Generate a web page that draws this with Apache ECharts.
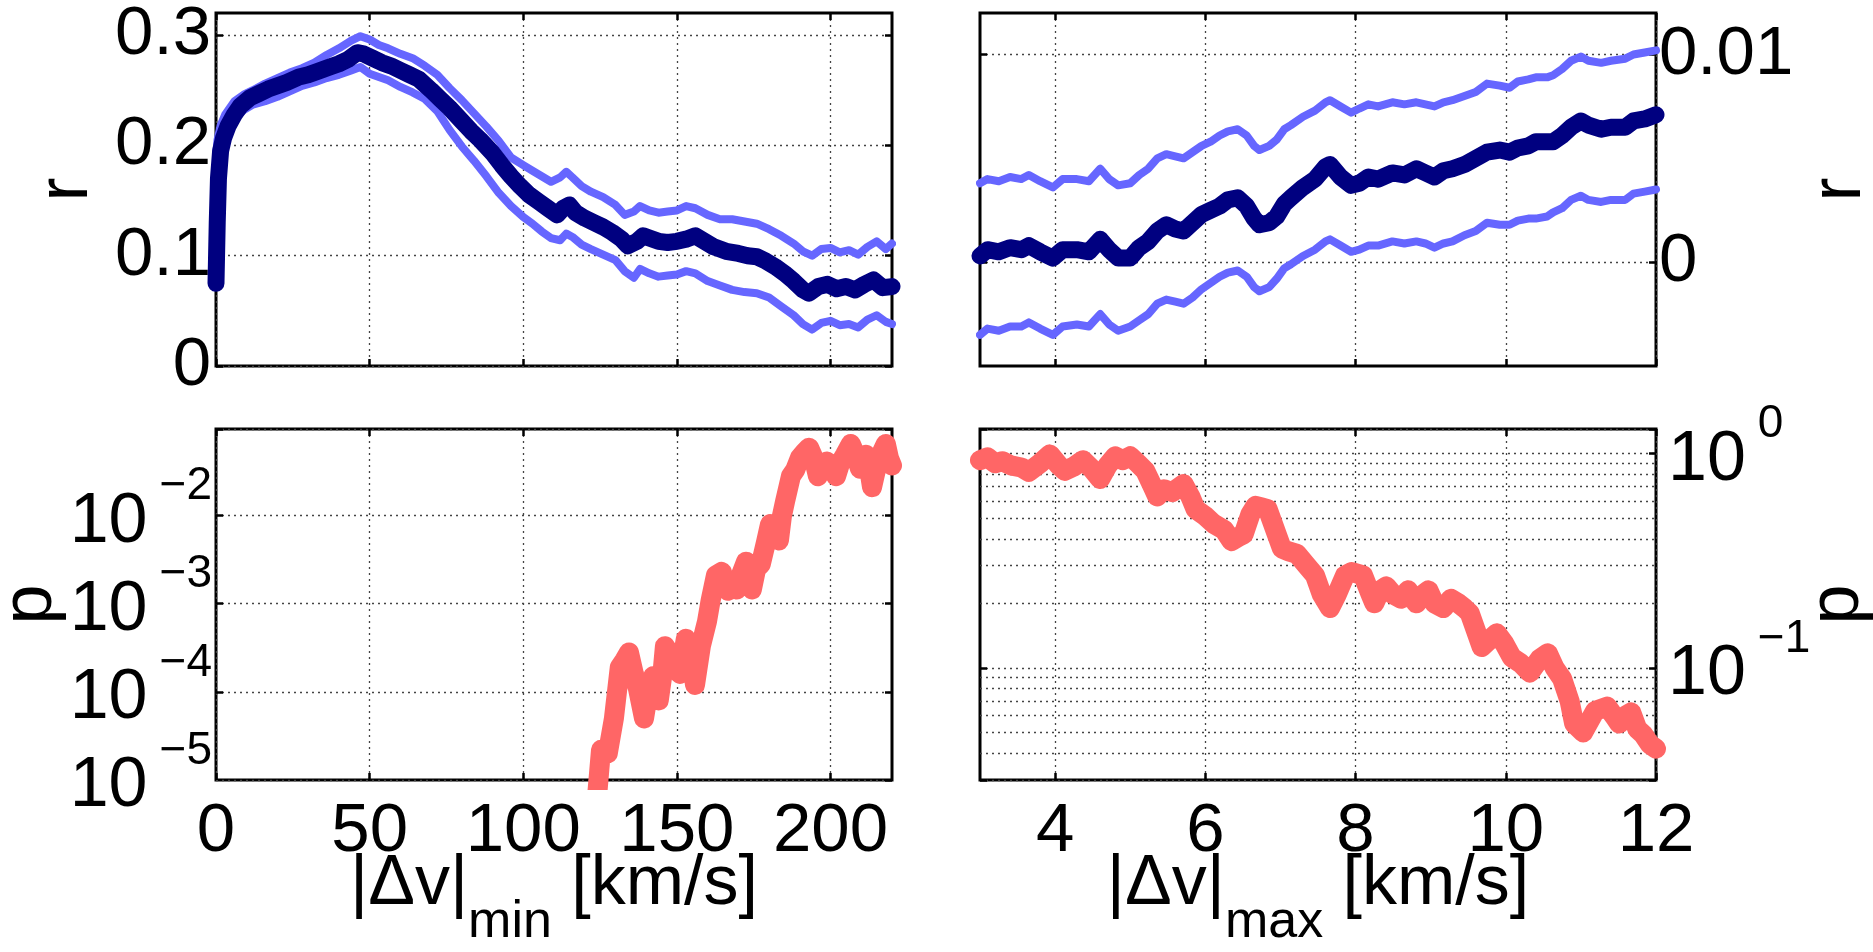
<!DOCTYPE html>
<html><head><meta charset="utf-8">
<script src="https://cdn.jsdelivr.net/npm/echarts@6/dist/echarts.min.js"></script>
<style>html,body{margin:0;padding:0;background:#fff}#c{width:1873px;height:952px}</style>
</head><body><div id="c"></div>
<script>
// ---------------- DATA ----------------
// top-left: r vs |dv|_min
const minNavyX = [0,0.4,0.8,1.5,2.5,4,6,8,11,14,17,20,23,27,30,33,37,40,43,46,48,51,54,57,60,63,66,70,73,76,80,83,86,90,93,96,99,102,105,108,111,113,115,117,120,123,126,129,132,134,137,139,141,144,147,150,153,156,159,162,166,170,173,176,179,182,185,188,191,193,196,199,202,205,208,211,214,217,220];
const minNavyR = [0.075,0.13,0.17,0.195,0.207,0.218,0.228,0.236,0.243,0.247,0.251,0.254,0.257,0.262,0.264,0.267,0.271,0.274,0.278,0.284,0.283,0.279,0.275,0.272,0.268,0.264,0.26,0.25,0.242,0.234,0.222,0.213,0.205,0.193,0.182,0.172,0.163,0.155,0.149,0.143,0.137,0.143,0.146,0.139,0.134,0.13,0.126,0.121,0.115,0.109,0.113,0.118,0.116,0.113,0.112,0.113,0.115,0.118,0.113,0.108,0.104,0.102,0.1,0.099,0.095,0.09,0.084,0.077,0.069,0.066,0.072,0.074,0.07,0.072,0.069,0.074,0.078,0.071,0.072];
const minBandX = [0,0.5,1.5,3,6,9,12,16,20,24,28,32,36,40,44,47,50,53,56,60,64,68,72,76,80,84,88,92,96,100,103,106,109,112,114,116,119,122,126,130,133,136,138,141,144,147,150,153,156,160,164,168,172,176,180,184,188,191,194,197,200,203,206,209,212,215,218,220];
const minUpperR = [0.19,0.205,0.218,0.228,0.24,0.246,0.25,0.256,0.261,0.266,0.27,0.275,0.282,0.288,0.295,0.299,0.296,0.291,0.288,0.283,0.279,0.272,0.264,0.252,0.241,0.229,0.217,0.204,0.189,0.182,0.177,0.172,0.167,0.171,0.176,0.171,0.163,0.158,0.153,0.146,0.137,0.14,0.145,0.141,0.139,0.14,0.141,0.145,0.143,0.137,0.133,0.133,0.131,0.129,0.124,0.118,0.111,0.104,0.1,0.106,0.107,0.103,0.105,0.101,0.108,0.113,0.106,0.111];
const minLowerR = [0.17,0.185,0.2,0.212,0.225,0.232,0.237,0.24,0.244,0.249,0.254,0.257,0.261,0.264,0.268,0.271,0.265,0.262,0.259,0.253,0.248,0.242,0.231,0.214,0.199,0.186,0.172,0.157,0.145,0.135,0.129,0.122,0.116,0.114,0.12,0.117,0.11,0.106,0.101,0.096,0.086,0.08,0.088,0.084,0.081,0.082,0.083,0.086,0.084,0.077,0.073,0.069,0.067,0.066,0.062,0.054,0.046,0.038,0.033,0.039,0.041,0.037,0.038,0.035,0.042,0.046,0.04,0.038];

// top-right: r vs |dv|_max
const maxX = [3.0,3.1,3.25,3.4,3.55,3.65,3.8,3.97,4.1,4.29,4.45,4.6,4.72,4.84,5.0,5.12,5.24,5.36,5.48,5.6,5.71,5.83,5.95,6.07,6.19,6.3,6.43,6.55,6.65,6.72,6.85,6.95,7.05,7.14,7.3,7.46,7.6,7.66,7.8,7.94,8.05,8.17,8.3,8.49,8.65,8.81,8.93,9.05,9.17,9.29,9.45,9.6,9.75,9.92,10.05,10.16,10.3,10.4,10.55,10.63,10.75,10.87,11.0,11.1,11.27,11.4,11.59,11.7,11.85,12.0];
const maxNavyR = [0.0003,0.0006,0.0005,0.0007,0.0006,0.0008,0.0005,0.0002,0.0006,0.0006,0.0005,0.0011,0.0006,0.0002,0.0002,0.0007,0.001,0.0015,0.0018,0.0016,0.0015,0.0019,0.0023,0.0025,0.0027,0.003,0.0031,0.0027,0.0021,0.0018,0.0019,0.0022,0.0028,0.0031,0.0036,0.004,0.0046,0.0047,0.0041,0.0037,0.0038,0.0041,0.004,0.0043,0.0042,0.0045,0.0043,0.0041,0.0044,0.0045,0.0047,0.005,0.0053,0.0054,0.0053,0.0055,0.0056,0.0058,0.0058,0.0058,0.0061,0.0065,0.0068,0.0066,0.0064,0.0065,0.0065,0.0068,0.0069,0.0071];
const maxUpperR = [0.0038,0.004,0.0039,0.0041,0.004,0.0042,0.0039,0.0036,0.004,0.004,0.0039,0.0045,0.004,0.0037,0.0038,0.0042,0.0045,0.005,0.0052,0.0051,0.005,0.0053,0.0056,0.0058,0.0061,0.0063,0.0064,0.0061,0.0056,0.0054,0.0056,0.0059,0.0064,0.0066,0.007,0.0073,0.0077,0.0078,0.0075,0.0072,0.0074,0.0076,0.0075,0.0077,0.0076,0.0077,0.0076,0.0075,0.0077,0.0078,0.008,0.0082,0.0086,0.0085,0.0084,0.0087,0.0088,0.0089,0.0089,0.009,0.0093,0.0097,0.0099,0.0097,0.0096,0.0097,0.0098,0.01,0.0101,0.0102];
const maxLowerR = [-0.0035,-0.0032,-0.0033,-0.0031,-0.0031,-0.0029,-0.0032,-0.0035,-0.0031,-0.003,-0.0031,-0.0025,-0.003,-0.0033,-0.0031,-0.0028,-0.0025,-0.002,-0.0018,-0.0019,-0.002,-0.0017,-0.0013,-0.001,-0.0007,-0.0005,-0.0004,-0.0007,-0.0012,-0.0014,-0.0012,-0.0008,-0.0003,-0.0001,0.0003,0.0006,0.001,0.0011,0.0008,0.0005,0.0006,0.0008,0.0008,0.001,0.0009,0.001,0.0009,0.0007,0.0009,0.001,0.0013,0.0015,0.0019,0.0018,0.0018,0.002,0.0021,0.0021,0.0022,0.0024,0.0026,0.003,0.0032,0.003,0.0029,0.003,0.003,0.0033,0.0034,0.0035];

// bottom-left: p vs |dv|_min
const pMinX = [123.5,125.3,127.5,129.5,131.4,133,134.4,136,137.3,139.3,140.5,142.2,144.1,145.2,146.1,147.5,149,151,152.9,154.5,155.9,157.8,159.8,161,162.7,164.6,166.6,168,169.5,171,172.5,174.4,175.8,177.3,179,180.3,181.8,183.2,184.2,185.2,187.1,188.5,190,191.5,193,194.5,195.9,197.5,198.8,200.3,201.8,203.2,204.7,206.6,208,209.6,211.5,212.5,213.5,215.4,217,218,219,220];
const pMinP = [4e-6,2.2e-5,2.0e-5,5e-5,1.9e-4,2.3e-4,2.8e-4,1.6e-4,1.1e-4,5e-5,9e-5,1.5e-4,8e-5,1.5e-4,3.3e-4,2.7e-4,2.8e-4,1.6e-4,4e-4,2.5e-4,1.2e-4,3.3e-4,6.3e-4,1.1e-3,2.1e-3,2.3e-3,1.4e-3,1.7e-3,1.45e-3,2.2e-3,3.0e-3,1.45e-3,2.5e-3,2.8e-3,5e-3,8e-3,6e-3,5.2e-3,1.0e-2,1.45e-2,2.8e-2,3.3e-2,4.5e-2,5.2e-2,5.9e-2,4.5e-2,2.8e-2,3.8e-2,4.1e-2,3.7e-2,2.8e-2,4.0e-2,4.9e-2,6.5e-2,5.0e-2,3.4e-2,4.9e-2,3.5e-2,2.1e-2,4.1e-2,5.5e-2,6.5e-2,4.5e-2,3.7e-2];

// bottom-right: p vs |dv|_max
const pMaxX = [3.0,3.1,3.2,3.3,3.41,3.55,3.65,3.8,3.93,4.05,4.13,4.25,4.37,4.5,4.6,4.7,4.8,4.9,5.0,5.1,5.2,5.3,5.36,5.45,5.56,5.71,5.8,5.87,6.0,6.11,6.25,6.35,6.45,6.51,6.6,6.67,6.75,6.83,6.95,7.02,7.1,7.22,7.35,7.46,7.55,7.66,7.75,7.86,7.95,8.1,8.2,8.25,8.33,8.41,8.5,8.61,8.7,8.81,8.9,8.97,9.05,9.17,9.27,9.37,9.45,9.52,9.6,9.68,9.78,9.88,9.98,10.08,10.2,10.32,10.45,10.56,10.65,10.75,10.85,10.91,11.03,11.12,11.19,11.35,11.45,11.51,11.6,11.67,11.75,11.83,11.92,12.0];
const pMaxP = [0.93,0.96,0.9,0.92,0.88,0.86,0.82,0.9,0.99,0.88,0.83,0.87,0.93,0.84,0.76,0.88,0.97,0.93,0.97,0.9,0.83,0.7,0.63,0.68,0.66,0.72,0.63,0.55,0.51,0.47,0.44,0.39,0.41,0.42,0.52,0.57,0.56,0.55,0.42,0.36,0.35,0.34,0.3,0.27,0.22,0.19,0.22,0.27,0.28,0.27,0.22,0.2,0.23,0.24,0.22,0.21,0.23,0.2,0.22,0.23,0.2,0.19,0.21,0.2,0.19,0.18,0.15,0.125,0.135,0.145,0.13,0.112,0.105,0.095,0.11,0.117,0.1,0.089,0.07,0.055,0.05,0.057,0.063,0.066,0.059,0.055,0.06,0.062,0.052,0.049,0.044,0.042];

// ticks
const xTicksMin = [0, 50, 100, 150, 200];
const xTicksMax = [4, 6, 8, 10, 12];
const rTicksMin = [0, 0.1, 0.2, 0.3];
const rLabelsMin = ['0', '0.1', '0.2', '0.3'];
const rTicksMax = [0, 0.01];
const rLabelsMax = ['0', '0.01'];
const pDecadesMin = [-4, -3, -2];
const pDecadesMinBottom = [-5];
const pDecadesMax = [-1, 0];
const pMinorMax = [0.04,0.05,0.06,0.07,0.08,0.09,0.2,0.3,0.4,0.5,0.6,0.7,0.8,0.9];

// ---------------- CHART ----------------
const FONT = "'Liberation Sans', Arial, Helvetica, sans-serif";
const TICKFS = 69;
const zip = (xs, ys) => xs.map((x, i) => [x, ys[i]]);
const NAVY = '#000080', LIGHT = '#6666ff', RED = '#ff6666';

const tickStyle = {show: true, inside: true, length: 7, lineStyle: {color: '#000', width: 2.5}};
const gridLine = {show: true, lineStyle: {color: '#444', width: 1.3, type: [2, 4]}};
const noLine = {show: false, onZero: false};

function linFmt(ticks, labels) {
  return v => {
    for (let i = 0; i < ticks.length; i++) if (Math.abs(v - ticks[i]) < 1e-9) return labels[i];
    return '';
  };
}
function logFmt(decs) {
  return v => {
    const e = Math.log10(v), k = Math.round(e);
    if (Math.abs(e - k) > 0.01 || decs.indexOf(k) < 0) return '';
    return '{b|10}{e|' + (k < 0 ? '\u2212' : '') + Math.abs(k) + '}';
  };
}
const logRich = {
  b: {fontSize: 70, lineHeight: 56, fontFamily: FONT, color: '#000', padding: [14, 0, 0, 0]},
  e: {fontSize: 46, lineHeight: 16, fontFamily: FONT, color: '#000', padding: [0, 0, 58, 12]}
};

function xAx(grid, pos, min, max, ticks, showLabel, name) {
  const a = {
    type: 'value', gridIndex: grid, position: pos, min: min, max: max,
    axisLine: noLine,
    axisTick: Object.assign({}, tickStyle, {customValues: ticks}),
    splitLine: pos === 'bottom' ? gridLine : {show: false},
    axisLabel: {show: showLabel, customValues: ticks, fontSize: TICKFS, fontFamily: FONT, color: '#000', margin: 17,
      formatter: v => String(Math.round(v * 1000) / 1000)}
  };
  if (name) {
    a.name = name; a.nameLocation = 'middle'; a.nameGap = 41; a.nameMoveOverlap = false;
    a.nameTextStyle = {color: '#000', fontFamily: FONT, rich: {
      a: {fontSize: 70, fontFamily: FONT, color: '#000'},
      s: {fontSize: 52, fontFamily: FONT, color: '#000', padding: [76, 0, 0, 0]}
    }};
  }
  return a;
}
function yLin(grid, pos, min, max, ticks, labels, showLabel, name, gap) {
  const a = {
    type: 'value', gridIndex: grid, position: pos, min: min, max: max,
    axisLine: noLine,
    axisTick: Object.assign({}, tickStyle, {customValues: ticks}),
    splitLine: showLabel ? gridLine : {show: false},
    axisLabel: {show: showLabel, customValues: ticks, fontSize: TICKFS, fontFamily: FONT, color: '#000',
      margin: pos === 'left' ? 5 : 3, padding: [12, 0, 0, 0], formatter: linFmt(ticks, labels)}
  };
  if (name) Object.assign(a, {name: name, nameLocation: 'middle', nameGap: gap, nameRotate: 90, nameMoveOverlap: false,
      nameTextStyle: {fontSize: 72, fontFamily: FONT, color: '#000'}});
  return a;
}
function yLog(grid, pos, min, max, decs, showLabel, name, gap, minLabel) {
  const a = {
    type: 'log', logBase: 10, gridIndex: grid, position: pos, min: min, max: max,
    axisLine: noLine,
    axisTick: tickStyle,
    splitLine: showLabel ? gridLine : {show: false},
    axisLabel: {show: showLabel, showMinLabel: minLabel, margin: pos === 'left' ? 4 : 12, formatter: logFmt(decs), rich: logRich,
      fontSize: TICKFS, fontFamily: FONT, color: '#000'}
  };
  if (name) Object.assign(a, {name: name, nameLocation: 'middle', nameGap: gap, nameRotate: 90, nameMoveOverlap: false,
      nameTextStyle: {fontSize: 72, fontFamily: FONT, color: '#000'}});
  return a;
}

const gridBase = {show: true, borderColor: '#000', borderWidth: 3, backgroundColor: 'rgba(0,0,0,0)', containLabel: false, outerBoundsMode: 'none'};
const grids = [
  Object.assign({left: 216, top: 13, width: 676, height: 353}, gridBase),
  Object.assign({left: 980, top: 13, width: 676, height: 353}, gridBase),
  Object.assign({left: 216, top: 429, width: 676, height: 351}, gridBase),
  Object.assign({left: 980, top: 429, width: 676, height: 351}, gridBase)
];

const xAxes = [
  xAx(0, 'bottom', 0, 220, xTicksMin, false),
  xAx(0, 'top', 0, 220, xTicksMin, false),
  xAx(1, 'bottom', 3, 12, xTicksMax, false),
  xAx(1, 'top', 3, 12, xTicksMax, false),
  xAx(2, 'bottom', 0, 220, xTicksMin, true, '{a||\u0394v|}{s|min}{a| [km/s]}'),
  xAx(2, 'top', 0, 220, xTicksMin, false),
  xAx(3, 'bottom', 3, 12, xTicksMax, true, '{a||\u0394v|}{s|max}{a| [km/s]}'),
  xAx(3, 'top', 3, 12, xTicksMax, false)
];
// extra label-only axis for the bottom 10^-5 label (avoids min-label overlap hiding)
const bottomLabelAxis = yLog(2, 'left', 1e-5, 0.096, pDecadesMinBottom, true, null, 0, true);
bottomLabelAxis.axisTick = {show: false};
bottomLabelAxis.splitLine = {show: false};

const yAxes = [
  yLin(0, 'left', 0, 0.32, rTicksMin, rLabelsMin, true, 'r', 113),
  yLin(0, 'right', 0, 0.32, rTicksMin, rLabelsMin, false),
  yLin(1, 'right', -0.005, 0.012, rTicksMax, rLabelsMax, true, 'r', 148),
  yLin(1, 'left', -0.005, 0.012, rTicksMax, rLabelsMax, false),
  yLog(2, 'left', 1e-5, 0.096, pDecadesMin, true, 'p', 149, false),
  yLog(2, 'right', 1e-5, 0.096, pDecadesMin, false),
  yLog(3, 'right', 0.03, 1.3, pDecadesMax, true, 'p', 146),
  yLog(3, 'left', 0.03, 1.3, pDecadesMax, false),
  bottomLabelAxis
];

function line(data, xi, yi, color, width, extra) {
  return Object.assign({
    type: 'line', data: data, xAxisIndex: xi, yAxisIndex: yi, showSymbol: false, symbol: 'none',
    lineStyle: {color: color, width: width, cap: 'round', join: 'round'}, itemStyle: {color: color},
    clip: true, z: 2, silent: true
  }, extra || {});
}

const series = [
  line(zip(minBandX, minLowerR), 0, 0, LIGHT, 8),
  line(zip(minBandX, minUpperR), 0, 0, LIGHT, 8),
  line(zip(minNavyX, minNavyR), 0, 0, NAVY, 17),
  line(zip(maxX, maxLowerR), 2, 2, LIGHT, 8),
  line(zip(maxX, maxUpperR), 2, 2, LIGHT, 8),
  line(zip(maxX, maxNavyR), 2, 2, NAVY, 17),
  line(zip(pMinX, pMinP), 4, 4, RED, 20),
  line(zip(pMaxX, pMaxP), 6, 6, RED, 20, {
    markLine: {silent: true, z: 1, symbol: ['none', 'none'], label: {show: false}, animation: false,
      lineStyle: {color: '#444', width: 1.3, type: [2, 4]},
      emphasis: {disabled: true},
      data: pMinorMax.map(v => ({yAxis: v}))}
  })
];

const chart = echarts.init(document.getElementById('c'), null, {renderer: 'canvas', width: 1873, height: 952});
chart.setOption({
  backgroundColor: '#fff',
  animation: false,
  grid: grids,
  xAxis: xAxes,
  yAxis: yAxes,
  series: series
});
</script>
</body></html>
